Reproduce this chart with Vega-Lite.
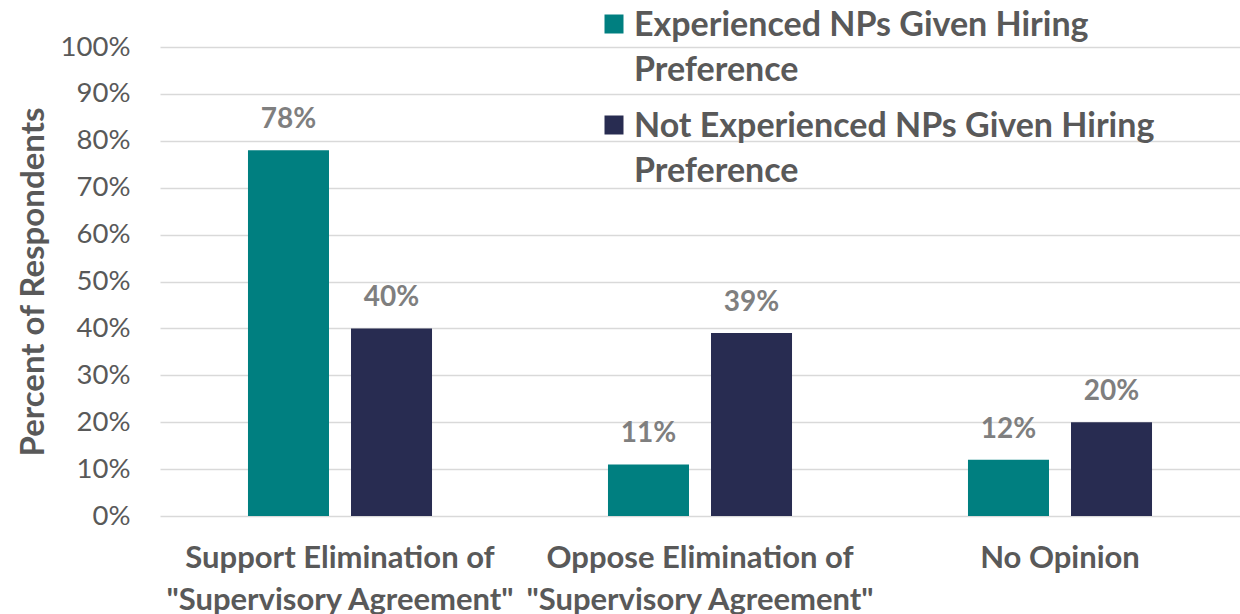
{
  "$schema": "https://vega.github.io/schema/vega-lite/v6.json",
  "width": 1080,
  "height": 469,
  "autosize": {"type": "none"},
  "padding": {"left": 160, "top": 47, "right": 0, "bottom": 98},
  "background": "white",
  "config": {
    "font": "Lato",
    "view": {"stroke": null},
    "axis": {"labelColor": "#595959", "titleColor": "#595959"}
  },
  "data": {
    "values": [
      {"category": "Support Elimination of|\"Supervisory Agreement\"", "group": "Experienced NPs Given Hiring|Preference", "value": 0.78, "label": "78%"},
      {"category": "Support Elimination of|\"Supervisory Agreement\"", "group": "Not Experienced NPs Given Hiring|Preference", "value": 0.40, "label": "40%"},
      {"category": "Oppose Elimination of|\"Supervisory Agreement\"", "group": "Experienced NPs Given Hiring|Preference", "value": 0.11, "label": "11%"},
      {"category": "Oppose Elimination of|\"Supervisory Agreement\"", "group": "Not Experienced NPs Given Hiring|Preference", "value": 0.39, "label": "39%"},
      {"category": "No Opinion", "group": "Experienced NPs Given Hiring|Preference", "value": 0.12, "label": "12%"},
      {"category": "No Opinion", "group": "Not Experienced NPs Given Hiring|Preference", "value": 0.20, "label": "20%"}
    ]
  },
  "encoding": {
    "x": {
      "field": "category", "type": "nominal", "sort": null,
      "scale": {"paddingInner": 0, "paddingOuter": 0},
      "axis": {
        "title": null, "labelAngle": 0, "domain": false, "ticks": false,
        "labelExpr": "split(datum.label, '|')", "labelLimit": 500,
        "labelFontSize": 31, "labelFontWeight": "bold", "labelLineHeight": 42,
        "labelBaseline": "top", "labelPadding": 27, "labelColor": "#595959"
      }
    },
    "xOffset": {
      "field": "group", "type": "nominal", "sort": null,
      "scale": {"paddingInner": 0.2136, "paddingOuter": 0.854}
    },
    "y": {
      "field": "value", "type": "quantitative",
      "scale": {"domain": [0, 1]},
      "axis": {
        "title": "Percent of Respondents", "format": ".0%",
        "values": [0, 0.1, 0.2, 0.3, 0.4, 0.5, 0.6, 0.7, 0.8, 0.9, 1],
        "labelOverlap": false,
        "domain": false, "ticks": false, "labelPadding": 30, "labelFontSize": 27.5,
        "gridColor": "#D9D9D9", "gridWidth": 1.5,
        "titleFontSize": 33, "titleFontWeight": "bold", "titlePadding": 10
      }
    }
  },
  "layer": [
    {
      "mark": {"type": "bar"},
      "encoding": {
        "color": {
          "field": "group", "type": "nominal", "sort": null,
          "scale": {"range": ["#007F80", "#282C51"]},
          "legend": {
            "title": null, "orient": "none", "legendX": 437, "legendY": -40,
            "labelExpr": "split(datum.label, '|')",
            "labelFontSize": 34, "labelFontWeight": "bold", "labelColor": "#595959",
            "labelBaseline": "alphabetic", "labelLimit": 700,
            "symbolType": "square", "symbolSize": 361, "symbolStrokeWidth": 0,
            "labelOffset": 3, "rowPadding": 20,
            "encode": {"labels": {"update": {"dy": {"value": 12}, "lineHeight": {"value": 45}}}}
          }
        }
      }
    },
    {
      "mark": {"type": "text", "baseline": "alphabetic", "dy": -22, "fontSize": 28, "fontWeight": "bold", "color": "#7F7F7F"},
      "encoding": {
        "text": {"field": "label"}
      }
    }
  ]
}
